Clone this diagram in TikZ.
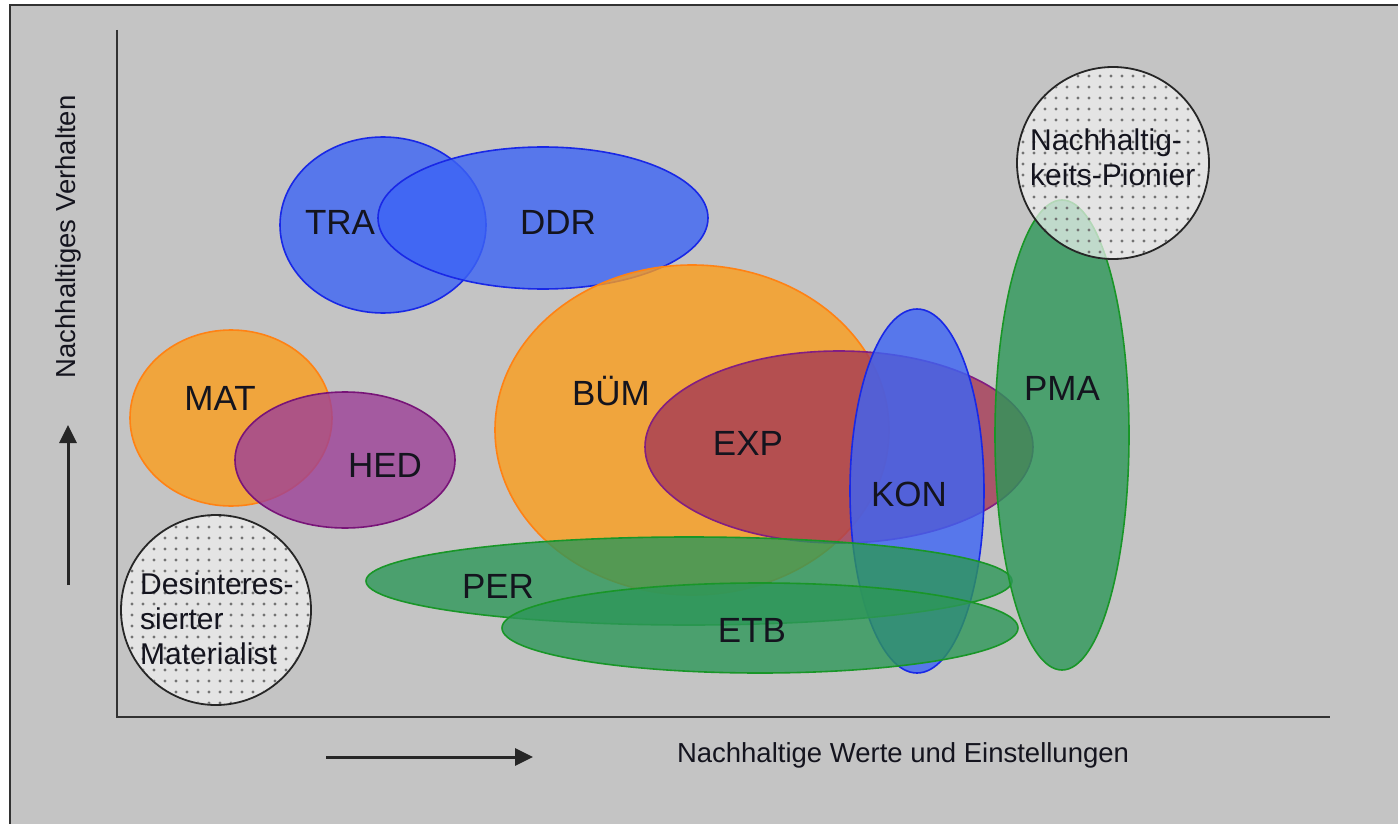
\documentclass[tikz,border=0pt]{standalone}
\usepackage{fontspec}
\setmainfont{Liberation Sans}
\usetikzlibrary{patterns.meta,arrows.meta}
\definecolor{bgray}{RGB}{196,196,196}
\definecolor{frame}{RGB}{50,50,50}
\definecolor{cblue}{RGB}{60,100,245}
\definecolor{sblue}{RGB}{25,40,230}
\definecolor{corange}{RGB}{252,158,28}
\definecolor{sorange}{RGB}{255,130,20}
\definecolor{cexp}{RGB}{165,58,85}
\definecolor{sexp}{RGB}{130,30,130}
\definecolor{ched}{RGB}{157,64,151}
\definecolor{shed}{RGB}{120,20,120}
\definecolor{cgreen}{RGB}{45,151,89}
\definecolor{sgreen}{RGB}{25,150,40}
\definecolor{txt}{RGB}{20,20,30}
\tikzset{
  blob/.style={fill opacity=0.8, line width=1.6pt},
  blueblob/.style={blob, fill=cblue, draw=sblue},
  orangeblob/.style={blob, fill=corange, draw=sorange},
  expblob/.style={blob, fill=cexp, draw=sexp},
  hedblob/.style={blob, fill=ched, draw=shed},
  greenblob/.style={blob, fill=cgreen, draw=sgreen},
  typblob/.style={line width=1.8pt, draw=black!85, fill=white!80!bgray, fill opacity=0.7},
  dotfill/.style={pattern={Dots[distance=11pt, radius=1.6pt]}, pattern color=black!55},
  biglabel/.style={text=txt, font=\fontsize{35}{42}\selectfont, anchor=base, inner sep=0pt},
  circlabel/.style={text=txt, font=\fontsize{30}{35}\selectfont, align=left, anchor=west, inner sep=0pt},
  axislabel/.style={text=txt, font=\fontsize{27.5}{32}\selectfont, inner sep=0pt},
  axisline/.style={draw=frame, line width=2.6pt},
  axisarrow/.style={draw=black!85, line width=3pt, -{Triangle[length=18pt,width=17pt]}}
}
\begin{document}
\begin{tikzpicture}[x=1pt,y=-1pt]
\useasboundingbox (0,0) rectangle (1398,824);
\fill[white] (0,0) rectangle (1398,824);
\fill[bgray] (10,5) rectangle (1398,824);
\draw[frame, line width=2pt] (10,824) -- (10,5) -- (1398,5);
% axes
\coordinate (origin) at (117,717);
\coordinate (ytop) at (117,30);
\coordinate (xend) at (1330,717);
\draw[axisline] (ytop) -- (origin) -- (xend);
% shapes
\draw[orangeblob] (231,418) ellipse [x radius=101, y radius=88];
\draw[hedblob] (345,460) ellipse [x radius=110, y radius=68];
\draw[blueblob] (383,225) ellipse [x radius=103, y radius=88];
\draw[blueblob] (543,218) ellipse [x radius=165, y radius=71];
\draw[orangeblob] (692,430) ellipse [x radius=197, y radius=165];
\draw[expblob] (839,447) ellipse [x radius=194, y radius=96];
\draw[blueblob] (917,491) ellipse [x radius=67, y radius=182];
\draw[greenblob] (689,581) ellipse [x radius=323, y radius=44];
\draw[greenblob] (760,628) ellipse [x radius=258, y radius=45];
\draw[greenblob] (1062,435) ellipse [x radius=67, y radius=235];
% type circles
\draw[typblob] (216,610) circle [radius=95];
\fill[dotfill] (216,610) circle [radius=94];
\draw[typblob] (1113,163) circle [radius=96];
\fill[dotfill] (1113,163) circle [radius=95];
% labels
\node[biglabel] (tra) at (340,234) {TRA};
\node[biglabel] (ddr) at (558,234) {DDR};
\node[biglabel] (mat) at (220,410) {MAT};
\node[biglabel] (hed) at (385,477) {HED};
\node[biglabel] (bum) at (611,405) {BÜM};
\node[biglabel] (exp) at (748,455) {EXP};
\node[biglabel] (kon) at (909,506) {KON};
\node[biglabel] (pma) at (1062,400) {PMA};
\node[biglabel] (per) at (498,598) {PER};
\node[biglabel] (etb) at (752,642) {ETB};
\node[circlabel] (desint) at (140,619) {Desinteres-\\sierter\\Materialist};
\node[circlabel] (pionier) at (1030,157) {Nachhaltig-\\keits-Pionier};
% axis labels and arrows
\node[axislabel, rotate=90] (ylabel) at (68,237) {Nachhaltiges Verhalten};
\node[axislabel] (xlabel) at (903,755) {Nachhaltige Werte und Einstellungen};
\coordinate (yarrs) at (68,585);
\coordinate (yarre) at (68,425);
\draw[axisarrow] (yarrs) -- (yarre);
\coordinate (xarrs) at (326,757);
\coordinate (xarre) at (533,757);
\draw[axisarrow] (xarrs) -- (xarre);
\end{tikzpicture}
\end{document}
